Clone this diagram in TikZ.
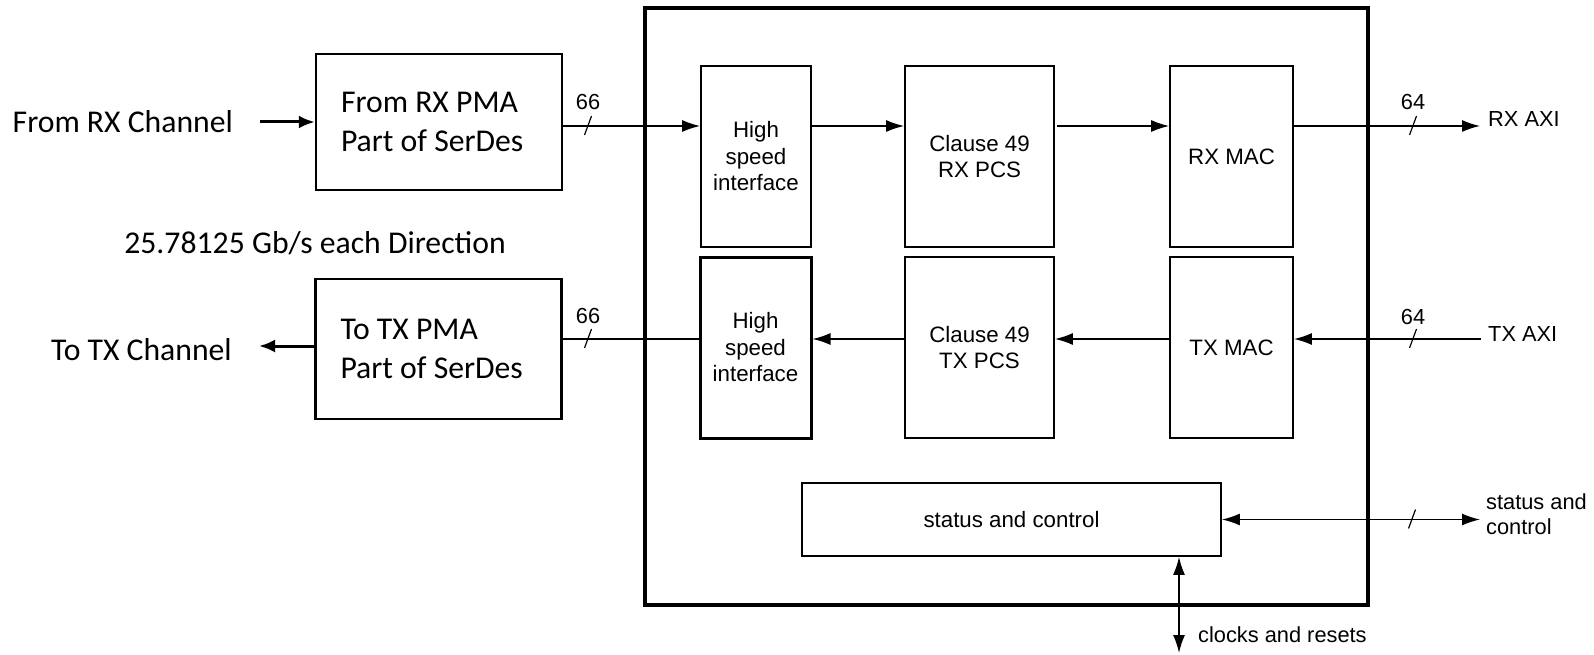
\documentclass[tikz,border=0pt]{standalone}
\usepackage{fontspec}
\setmainfont{Carlito}
\newfontfamily\arfont{Liberation Sans}
\usetikzlibrary{arrows.meta}
\begin{document}
\begin{tikzpicture}[x=1pt,y=-1pt,
  blk/.style={draw, line width=1.8pt, inner sep=0pt, align=center, minimum height=181pt, font=\arfont\fontsize{22.3}{26.5}\selectfont},
  pma/.style={draw, line width=2.4pt, inner xsep=25pt, inner ysep=0pt, text width=196pt, align=flush left, font=\fontsize{31.7}{39}\selectfont},
  lbl/.style={inner sep=0pt, font=\fontsize{31.7}{39}\selectfont},
  alb/.style={inner sep=0pt, font=\arfont\fontsize{21.8}{25}\selectfont, align=left},
  conn/.style={line width=1.5pt},
  arr/.style={conn, -{Latex[length=18pt,width=12pt]}},
  darr/.style={conn, {Latex[length=18pt,width=12pt]}-{Latex[length=18pt,width=12pt]}},
  thk/.style={line width=3pt, -{Latex[length=16pt,width=13pt]}},
  slash/.style={line width=1.2pt}
]
\useasboundingbox (0,0) rectangle (1594,655);

% outer box
\node[draw, line width=3.2pt, minimum width=723pt, minimum height=597pt, inner sep=0pt] (big) at (1006.5,306.5) {};

% PMA boxes
\node[pma, minimum height=136pt] (rxpma) at (439,122) {From RX PMA\\Part of SerDes};
\node[pma, minimum height=140pt] (txpma) at (438.5,349) {To TX PMA\\Part of SerDes};

% inner blocks
\node[blk, minimum width=110pt] (rxhs) at (756,156.5) {High\\speed\\interface};
\node[blk, minimum width=111pt, line width=3pt] (txhs) at (755.5,347.5) {High\\speed\\interface};
\node[blk, minimum width=149pt] (rxpcs) at (979.5,156.5) {Clause 49\\RX PCS};
\node[blk, minimum width=149pt] (txpcs) at (979.5,347.5) {Clause 49\\TX PCS};
\node[blk, minimum width=123pt] (rxmac) at (1231.5,156.5) {RX MAC};
\node[blk, minimum width=123pt] (txmac) at (1231.5,347.5) {TX MAC};
\node[blk, minimum width=419pt, minimum height=73pt] (sc) at (1011.5,519.5) {status and control};

% external labels
\node[lbl, anchor=west] (rxch) at (12.5,122) {From RX Channel};
\node[lbl, anchor=east] (txch) at (232,350) {To TX Channel};
\node[lbl] (rate) at (315,243) {25.78125 Gb/s each Direction};
\node[alb, anchor=west] (rxaxi) at (1488,119) {RX AXI};
\node[alb, anchor=west] (txaxi) at (1488,334) {TX AXI};
\node[alb, anchor=west] (sctext) at (1486,514.5) {status and\\control};
\node[alb, anchor=west] (clk) at (1198,635) {clocks and resets};
\node[alb] (w66a) at (588,102) {66};
\node[alb] (w66b) at (588,316) {66};
\node[alb] (w64a) at (1413,102) {64};
\node[alb] (w64b) at (1413,317) {64};

% level coordinates
\coordinate (ry) at (0,126);
\coordinate (ty) at (0,339);
\coordinate (rxend) at (1480,126);
\coordinate (txstart) at (1481,339);
\coordinate (scend) at (1480,519.5);
\coordinate (clkend) at (1179,653);

% left arrows
\draw[thk] ([xshift=27pt]rxch.east) -- (rxpma.west |- rxch.east);
\draw[thk] (txpma.west |- 0,346) -- ([shift={(27,-4)}]txch.east);

% RX path
\draw[arr] (rxpma.east |- ry) -- (rxhs.west |- ry);
\draw[arr] (rxhs.east |- ry) -- (rxpcs.west |- ry);
\draw[arr] ([xshift=2pt]rxpcs.east |- ry) -- (rxmac.west |- ry);
\draw[arr] (rxmac.east |- ry) -- (rxend);

% TX path
\draw[arr] (txstart) -- (txmac.east |- ty);
\draw[arr] (txmac.west |- ty) -- (txpcs.east |- ty);
\draw[arr] (txpcs.west |- ty) -- (txhs.east |- ty);
\draw[conn] (txhs.west |- ty) -- (txpma.east |- ty);

% status / clocks
\draw[darr] (sc.east |- scend) -- (scend);
\draw[darr] (sc.south -| clkend) -- (clkend);

% bus slashes
\foreach \p in {(588,126),(588,339),(1413,126),(1413,339),(1412,519.5)}{
  \draw[slash] \p ++(3.5,-10) -- ++(-7,19);
}
\end{tikzpicture}
\end{document}
